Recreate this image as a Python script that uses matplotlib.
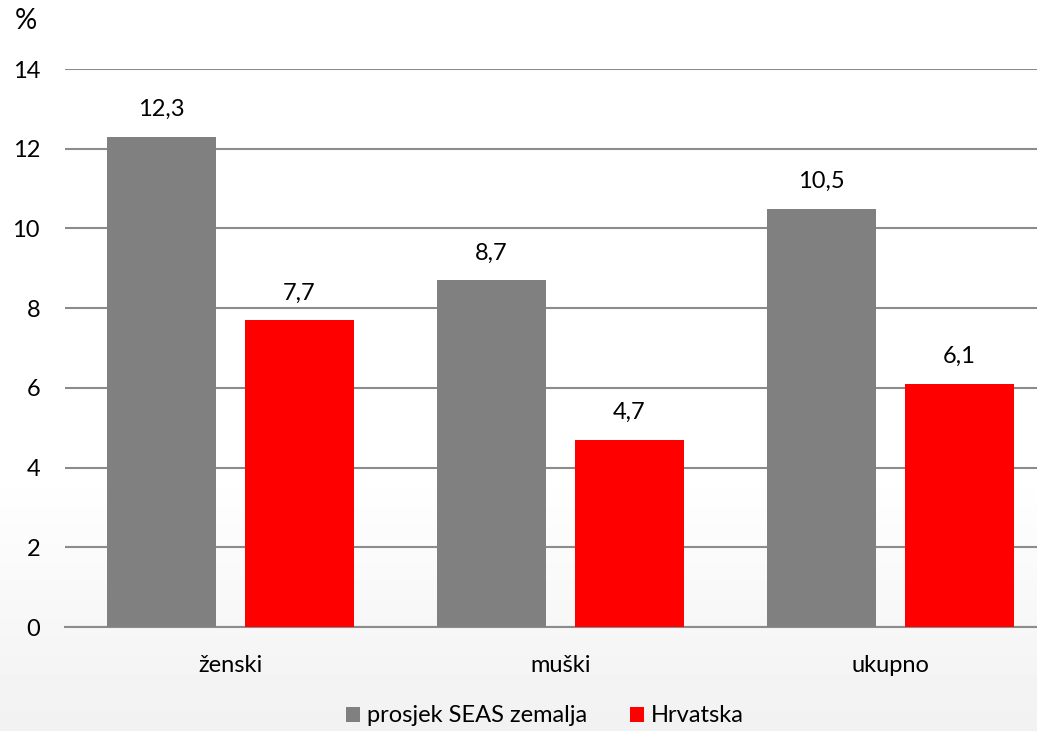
import numpy as np
import matplotlib.pyplot as plt

# podaci
kategorije = ["ženski", "muški", "ukupno"]
seas = [12.3, 8.7, 10.5]
hrvatska = [7.7, 4.7, 6.1]
serije = ["prosjek SEAS zemalja", "Hrvatska"]
y_ticks = [0, 2, 4, 6, 8, 10, 12, 14]

plt.rcParams["font.family"] = ["Lato", "DejaVu Sans"]
FS = 17

fig = plt.figure(figsize=(10.37, 7.31), dpi=100)

# pozadina s gradijentom (bijelo -> svijetlo sivo)
bg = fig.add_axes([0, 0, 1, 1], zorder=0)
h = 731
grad = np.ones(h)
start = 470
grad[start:] = np.linspace(1.0, 0.945, h - start)
bg.imshow(np.repeat(grad[:, None], 2, axis=1), cmap="gray", vmin=0, vmax=1,
          aspect="auto", extent=[0, 1, 0, 1])
bg.axis("off")

ax = fig.add_axes([65 / 1037, 1 - 627 / 731, 1 - 65 / 1037, (627 - 69) / 731], zorder=1)
ax.patch.set_alpha(0)

x = np.arange(len(kategorije))
w = 0.332
off = 0.209
b1 = ax.bar(x - off, seas, w, color="#808080", label=serije[0], zorder=3)
b2 = ax.bar(x + off, hrvatska, w, color="#ff0000", label=serije[1], zorder=3)

for bars in (b1, b2):
    for r in bars:
        v = r.get_height()
        ax.annotate(f"{v:.1f}".replace(".", ","), (r.get_x() + r.get_width() / 2, v),
                    xytext=(0, 12), textcoords="offset points", ha="center",
                    va="bottom", fontsize=FS)

ax.set_ylim(0, 14)
ax.set_xlim(-0.5015, 2.444)
ax.set_yticks(y_ticks)
ax.set_yticklabels([str(t) for t in y_ticks], fontsize=FS)
ax.yaxis.grid(True, color="#8c8c8c", linewidth=1.5, zorder=0)
ax.set_axisbelow(True)
for s in ["top", "right", "left"]:
    ax.spines[s].set_visible(False)
ax.spines["bottom"].set_color("#8c8c8c")
ax.spines["bottom"].set_linewidth(1.5)
ax.tick_params(axis="y", length=0, pad=18)
ax.tick_params(axis="x", length=0, pad=20)
ax.set_xticks(x)
ax.set_xticklabels(kategorije, fontsize=FS)

fig.text(15 / 1037, 1 - 21 / 731, "%", fontsize=20, ha="left", va="center")

fig.legend(handles=[b1, b2], labels=serije, loc="center", bbox_to_anchor=(545 / 1037, 1 - 716 / 731),
           ncol=2, frameon=False, fontsize=FS, handlelength=0.6, handleheight=0.6,
           handletextpad=0.3, columnspacing=1.8)

fig.savefig("out.png", dpi=100)
